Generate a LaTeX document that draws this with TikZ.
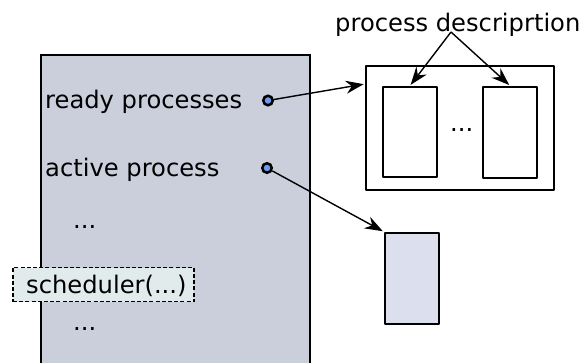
\documentclass[tikz,border=0pt]{standalone}
\usepackage{fontspec}
\setmainfont{DejaVu Sans}
\usetikzlibrary{arrows.meta}
\definecolor{panel}{HTML}{CBCEDB}
\definecolor{dotblue}{HTML}{6F9BE8}
\definecolor{schedfill}{HTML}{E2EBEB}
\definecolor{procfill}{HTML}{DCE0EE}
\tikzset{
  txt/.style={anchor=base west, inner sep=0pt, font=\fontsize{24.2}{28}\selectfont},
  ptr/.style={circle, draw=black, line width=2.5pt, fill=dotblue, minimum size=9.5pt, inner sep=0pt},
  conn/.style={-{Stealth[length=18pt,width=13pt,inset=6pt]}, line width=1.4pt, shorten >=1pt},
  pbox/.style={draw=black, line width=2.6pt, line join=round},
}
\begin{document}
\begin{tikzpicture}[x=1pt,y=-1pt]
\useasboundingbox (0,0) rectangle (583,362);
% left panel
\draw[fill=panel, line width=1.4pt] (41,364) -- (41,55) -- (310,55) -- (310,364);
\node[txt] (rp) at (45,108) {ready processes};
\node[txt] (ap) at (45,176) {active process};
\node[txt] (d1) at (73,228) {...};
\node[txt] (d2) at (73,330) {...};
\node[draw=black, dash pattern=on 4pt off 2.2pt, line width=1.7pt, fill=schedfill, minimum width=181pt, minimum height=34pt, inner sep=0pt] (sch) at (103.5,284.5) {};
\node[txt] (scht) at (26,293) {scheduler(...)};
\node[ptr] (rdot) at (268,100.5) {};
\node[ptr] (adot) at (267,168) {};
% right side
\node[pbox, minimum width=188pt, minimum height=124pt, inner sep=0pt] (list) at (460,128) {};
\node[pbox, minimum width=54pt, minimum height=90pt, inner sep=0pt] (pd1) at (410,132) {};
\node[pbox, minimum width=54pt, minimum height=91pt, inner sep=0pt] (pd2) at (510,132.5) {};
\node[txt] (ld) at (450,131) {...};
\node[pbox, fill=procfill, minimum width=54pt, minimum height=91pt, inner sep=0pt] (act) at (412,278.5) {};
\node[txt] (lbl) at (335,31) {process descriprtion};
\coordinate (lblpt) at (451,32);
% connectors
\draw[conn] (rdot) -- (list.west |- 0,84);
\draw[conn] (adot) -- (act.north west);
\draw[conn] (lblpt) -- (pd1.north);
\draw[conn] (lblpt) -- (pd2.north);
\end{tikzpicture}
\end{document}
